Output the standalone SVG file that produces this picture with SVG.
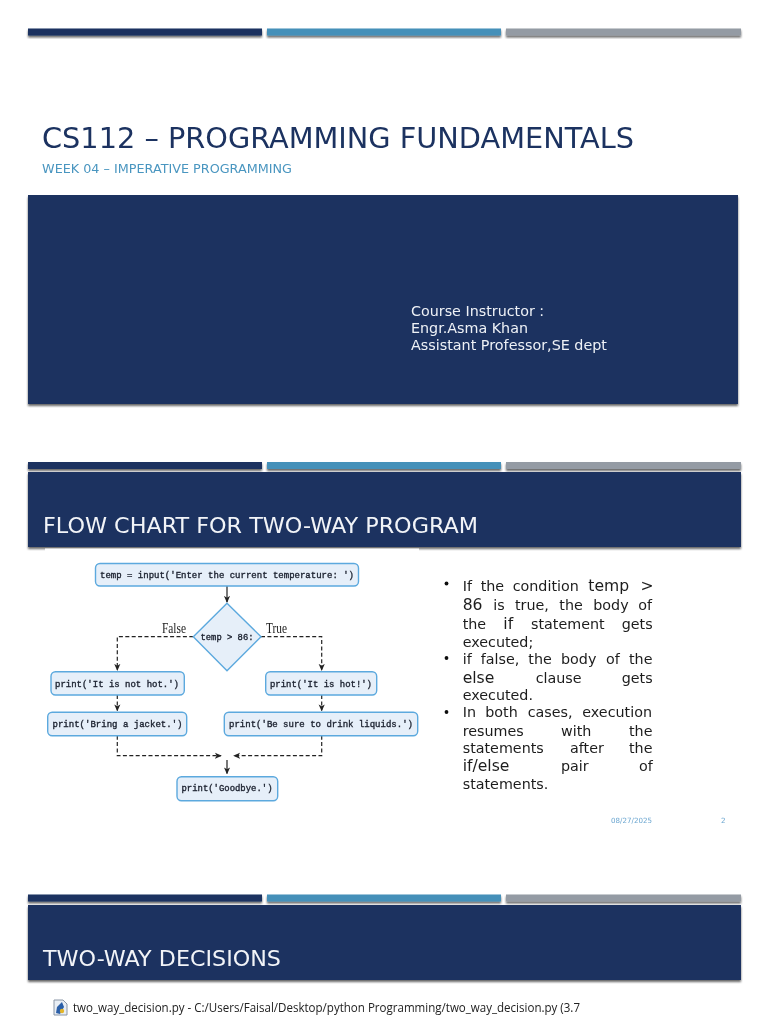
<svg xmlns="http://www.w3.org/2000/svg" width="768" height="1024" viewBox="0 0 768 1024">
<defs>
<filter id="sh" x="-5%" y="-30%" width="110%" height="170%"><feDropShadow dx="0" dy="2" stdDeviation="0.9" flood-color="#000" flood-opacity="0.6"/></filter>
<filter id="soft" x="-2%" y="-2%" width="104%" height="104%"><feGaussianBlur stdDeviation="0.55"/></filter>
<filter id="softer" x="-2%" y="-10%" width="104%" height="120%"><feGaussianBlur stdDeviation="0.35"/></filter>
<marker id="ah" viewBox="0 0 8 8" refX="7" refY="4" markerWidth="7" markerHeight="7" markerUnits="userSpaceOnUse" orient="auto"><path d="M0 0.5L8 4L0 7.5L2 4Z" fill="#222"/></marker>
</defs>
<style>
.d{fill:#1b3361}.b{fill:#4590b9}.g{fill:#949ba4}
text{font-family:"DejaVu Sans","Liberation Sans",sans-serif}
.box{fill:#e6eff9;stroke:#5ca9de;stroke-width:1.4}
.m{font-family:"Liberation Mono",monospace;font-size:9px;fill:#1c2230;stroke:#1c2230;stroke-width:0.35}
.lab{font-family:"Liberation Serif",serif;font-size:14px;fill:#222}
.so{fill:none;stroke:#222;stroke-width:1.2}
.da{fill:none;stroke:#222;stroke-width:1.2;stroke-dasharray:4 2.4}
.t{font-size:14.3px;fill:#1c1c1c}
.c{font-size:15.6px;fill:#1c1c1c}
.hd{font-size:21.5px;fill:#f2f4f8}
.ins{font-size:14.3px;fill:#eef1f6}
.foot{font-size:7.2px;fill:#6ba6d0}
</style>
<rect width="768" height="1024" fill="#fff"/>

<g id="slide1">
<g filter="url(#sh)"><rect class="d" x="28" y="28.5" width="234" height="7"/><rect class="b" x="267" y="28.5" width="234" height="7"/><rect class="g" x="506" y="28.5" width="235" height="7"/></g>
<text x="42" y="148" font-size="27.5" fill="#1b3361" textLength="592" lengthAdjust="spacingAndGlyphs" filter="url(#softer)">CS112 – PROGRAMMING FUNDAMENTALS</text>
<text x="42" y="173" font-size="13" fill="#4a96c0" textLength="250" lengthAdjust="spacingAndGlyphs" filter="url(#softer)">WEEK 04 – IMPERATIVE PROGRAMMING</text>
<rect class="d" x="28" y="195" width="710" height="209" filter="url(#sh)"/>
<g filter="url(#softer)">
<text class="ins" x="411" y="316">Course Instructor :</text>
<text class="ins" x="411" y="333">Engr.Asma Khan</text>
<text class="ins" x="411" y="350" textLength="196" lengthAdjust="spacingAndGlyphs">Assistant Professor,SE dept</text>
</g>
</g>

<g id="slide2">
<g filter="url(#sh)"><rect class="d" x="28" y="462" width="234" height="7"/><rect class="b" x="267" y="462" width="234" height="7"/><rect class="g" x="506" y="462" width="235" height="7"/></g>
<rect class="d" x="28" y="472" width="713" height="75" filter="url(#sh)"/>
<text class="hd" x="43" y="533" textLength="435" lengthAdjust="spacingAndGlyphs" filter="url(#softer)">FLOW CHART FOR TWO-WAY PROGRAM</text>
<rect x="45" y="548.500" width="374" height="260" fill="#fff"/>
</g>

<g id="flowchart" filter="url(#soft)">
<g id="connectors">
<path class="so" d="M227 586V602" marker-end="url(#ah)"/>
<path class="da" d="M193.300 636.700H117.300V670" marker-end="url(#ah)"/>
<path class="da" d="M261 636.700H321.700V670" marker-end="url(#ah)"/>
<path class="da" d="M117.300 695V710.500" marker-end="url(#ah)"/>
<path class="da" d="M321.700 695V710.500" marker-end="url(#ah)"/>
<path class="da" d="M117.300 735.700V755.700H221" marker-end="url(#ah)"/>
<path class="da" d="M321.700 735.700V755.700H234" marker-end="url(#ah)"/>
<path class="so" d="M227 760V773.500" marker-end="url(#ah)"/>
</g>
<g id="n-input"><rect class="box" x="95.500" y="563.500" width="263" height="22.500" rx="4.500"/><text class="m" x="100" y="578" textLength="254" lengthAdjust="spacingAndGlyphs">temp = input('Enter the current temperature: ')</text></g>
<g id="n-cond"><path class="box" d="M227 603.300L261 636.700L227 670.700L193.300 636.700Z"/><text class="m" x="200.500" y="639.500" textLength="53" lengthAdjust="spacingAndGlyphs">temp &gt; 86:</text></g>
<g id="n-nothot"><rect class="box" x="51" y="671.700" width="133.300" height="23.300" rx="4.500"/><text class="m" x="55" y="686.500" textLength="124" lengthAdjust="spacingAndGlyphs">print('It is not hot.')</text></g>
<g id="n-jacket"><rect class="box" x="47.700" y="712.300" width="139" height="23.400" rx="4.500"/><text class="m" x="52.500" y="726.500" textLength="130" lengthAdjust="spacingAndGlyphs">print('Bring a jacket.')</text></g>
<g id="n-hot"><rect class="box" x="265.700" y="671.700" width="111" height="23.300" rx="4.500"/><text class="m" x="270" y="686.500" textLength="102" lengthAdjust="spacingAndGlyphs">print('It is hot!')</text></g>
<g id="n-liquids"><rect class="box" x="224.300" y="712.300" width="193.400" height="23.400" rx="4.500"/><text class="m" x="229" y="726.500" textLength="184" lengthAdjust="spacingAndGlyphs">print('Be sure to drink liquids.')</text></g>
<g id="n-goodbye"><rect class="box" x="177" y="776.700" width="100.700" height="24" rx="4.500"/><text class="m" x="181.500" y="791" textLength="91" lengthAdjust="spacingAndGlyphs">print('Goodbye.')</text></g>
<text class="lab" x="162" y="633" textLength="24" lengthAdjust="spacingAndGlyphs">False</text>
<text class="lab" x="266" y="633" textLength="21" lengthAdjust="spacingAndGlyphs">True</text>
</g>

<g id="bullets" filter="url(#softer)">
<circle cx="446.500" cy="583.500" r="1.900" fill="#111"/><circle cx="446.500" cy="658" r="1.900" fill="#111"/><circle cx="446.500" cy="712" r="1.900" fill="#111"/>
<text class="t" y="591"><tspan x="462.700">If</tspan><tspan x="480.700">the</tspan><tspan x="512.700">condition</tspan></text><text class="c" y="591"><tspan x="588.300">temp</tspan><tspan x="640.500">&gt;</tspan></text>
<text class="c" y="610" x="462.700">86</text><text class="t" y="610"><tspan x="493.300">is</tspan><tspan x="515">true,</tspan><tspan x="559.300">the</tspan><tspan x="593.300">body</tspan><tspan x="638.300">of</tspan></text>
<text class="t" y="629"><tspan x="462.700">the</tspan><tspan x="531">statement</tspan><tspan x="621.700">gets</tspan></text><text class="c" y="629" x="503.300">if</text>
<text class="t" y="646.700" x="462.700">executed;</text>
<text class="t" y="663.700"><tspan x="462.700">if</tspan><tspan x="480.700">false,</tspan><tspan x="528.300">the</tspan><tspan x="561">body</tspan><tspan x="606">of</tspan><tspan x="629">the</tspan></text>
<text class="c" y="682.700" x="462.700">else</text><text class="t" y="682.700"><tspan x="535.700">clause</tspan><tspan x="621.700">gets</tspan></text>
<text class="t" y="700" x="462.700">executed.</text>
<text class="t" y="717"><tspan x="462.700">In</tspan><tspan x="485.300">both</tspan><tspan x="527.700">cases,</tspan><tspan x="582.300">execution</tspan></text>
<text class="t" y="735.700"><tspan x="462.700">resumes</tspan><tspan x="561">with</tspan><tspan x="629">the</tspan></text>
<text class="t" y="753"><tspan x="462.700">statements</tspan><tspan x="570">after</tspan><tspan x="629">the</tspan></text>
<text class="c" y="771" x="462.700">if/else</text><text class="t" y="771"><tspan x="561">pair</tspan><tspan x="639">of</tspan></text>
<text class="t" y="789" x="462.700">statements.</text>
</g>
<g filter="url(#softer)">
<text class="foot" x="611" y="823" textLength="41" lengthAdjust="spacingAndGlyphs">08/27/2025</text>
<text class="foot" x="721" y="823">2</text>
</g>

<g id="slide3">
<g filter="url(#sh)"><rect class="d" x="28" y="894.500" width="234" height="7"/><rect class="b" x="267" y="894.500" width="234" height="7"/><rect class="g" x="506" y="894.500" width="235" height="7"/></g>
<rect class="d" x="28" y="905" width="713" height="75" filter="url(#sh)"/>
<text class="hd" x="43" y="966" textLength="238" lengthAdjust="spacingAndGlyphs" filter="url(#softer)">TWO-WAY DECISIONS</text>
<g filter="url(#softer)">
<path d="M54 1000H63L67 1004V1015H54Z" fill="#e8eef5" stroke="#8a96a6" stroke-width="1"/>
<path d="M57 1007L62 1002L64 1007L60 1014L56 1013Z" fill="#2c5fa8"/><circle cx="62" cy="1011" r="2.200" fill="#e3b52b"/>
<text x="73" y="1011.500" font-size="12.500" fill="#222" style="font-family:'Open Sans','Noto Sans',sans-serif" textLength="507" lengthAdjust="spacingAndGlyphs">two_way_decision.py - C:/Users/Faisal/Desktop/python Programming/two_way_decision.py (3.7</text>
</g>
</g>
</svg>
